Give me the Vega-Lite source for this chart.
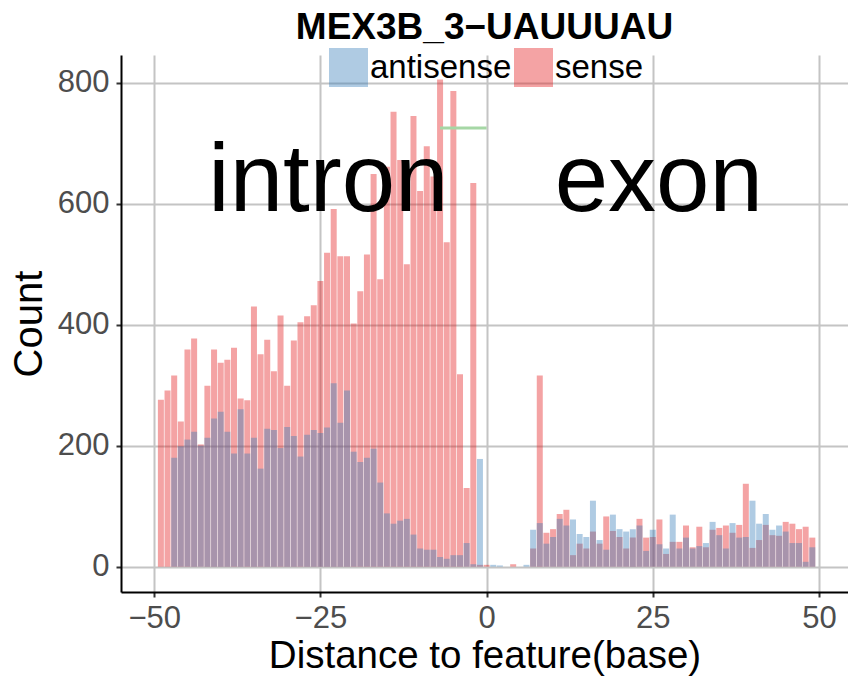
{
  "$schema": "https://vega.github.io/schema/vega-lite/v6.json",
  "width": 727,
  "height": 537,
  "autosize": {"type": "none"},
  "padding": {"left": 121, "top": 55, "right": 0, "bottom": 84},
  "background": "white",
  "title": {
    "text": "MEX3B_3−UAUUUAU",
    "fontSize": 37,
    "fontWeight": "bold",
    "color": "black",
    "anchor": "middle",
    "frame": "group",
    "baseline": "alphabetic",
    "offset": 14,
    "dy": 42
  },
  "config": {
    "view": {"stroke": null},
    "font": "Liberation Sans",
    "axis": {
      "domainColor": "black",
      "domainWidth": 2,
      "gridColor": "#C4C4C4",
      "gridWidth": 2,
      "tickColor": "#333333",
      "tickWidth": 2,
      "tickSize": 5,
      "labelColor": "#4D4D4D",
      "labelFontSize": 31,
      "titleFontWeight": "normal",
      "titleColor": "black"
    }
  },
  "datasets": {
    "bars": [
      {"distance": -49, "count": 276, "strand": "sense"},
      {"distance": -48, "count": 291, "strand": "sense"},
      {"distance": -47, "count": 316, "strand": "sense"},
      {"distance": -46, "count": 240, "strand": "sense"},
      {"distance": -45, "count": 359, "strand": "sense"},
      {"distance": -44, "count": 377, "strand": "sense"},
      {"distance": -43, "count": 202, "strand": "sense"},
      {"distance": -42, "count": 299, "strand": "sense"},
      {"distance": -41, "count": 359, "strand": "sense"},
      {"distance": -40, "count": 337, "strand": "sense"},
      {"distance": -39, "count": 342, "strand": "sense"},
      {"distance": -38, "count": 362, "strand": "sense"},
      {"distance": -37, "count": 278, "strand": "sense"},
      {"distance": -36, "count": 275, "strand": "sense"},
      {"distance": -35, "count": 430, "strand": "sense"},
      {"distance": -34, "count": 351, "strand": "sense"},
      {"distance": -33, "count": 375, "strand": "sense"},
      {"distance": -32, "count": 323, "strand": "sense"},
      {"distance": -31, "count": 415, "strand": "sense"},
      {"distance": -30, "count": 299, "strand": "sense"},
      {"distance": -29, "count": 374, "strand": "sense"},
      {"distance": -28, "count": 404, "strand": "sense"},
      {"distance": -27, "count": 414, "strand": "sense"},
      {"distance": -26, "count": 432, "strand": "sense"},
      {"distance": -25, "count": 472, "strand": "sense"},
      {"distance": -24, "count": 519, "strand": "sense"},
      {"distance": -23, "count": 591, "strand": "sense"},
      {"distance": -22, "count": 513, "strand": "sense"},
      {"distance": -21, "count": 513, "strand": "sense"},
      {"distance": -20, "count": 402, "strand": "sense"},
      {"distance": -19, "count": 455, "strand": "sense"},
      {"distance": -18, "count": 516, "strand": "sense"},
      {"distance": -17, "count": 649, "strand": "sense"},
      {"distance": -16, "count": 475, "strand": "sense"},
      {"distance": -15, "count": 661, "strand": "sense"},
      {"distance": -14, "count": 752, "strand": "sense"},
      {"distance": -13, "count": 672, "strand": "sense"},
      {"distance": -12, "count": 500, "strand": "sense"},
      {"distance": -11, "count": 745, "strand": "sense"},
      {"distance": -10, "count": 621, "strand": "sense"},
      {"distance": -9, "count": 695, "strand": "sense"},
      {"distance": -8, "count": 645, "strand": "sense"},
      {"distance": -7, "count": 805, "strand": "sense"},
      {"distance": -6, "count": 536, "strand": "sense"},
      {"distance": -5, "count": 786, "strand": "sense"},
      {"distance": -4, "count": 318, "strand": "sense"},
      {"distance": -3, "count": 130, "strand": "sense"},
      {"distance": -2, "count": 634, "strand": "sense"},
      {"distance": -1, "count": 3, "strand": "sense"},
      {"distance": 0, "count": 3, "strand": "sense"},
      {"distance": 4, "count": 4, "strand": "sense"},
      {"distance": 7, "count": 30, "strand": "sense"},
      {"distance": 8, "count": 316, "strand": "sense"},
      {"distance": 9, "count": 56, "strand": "sense"},
      {"distance": 10, "count": 62, "strand": "sense"},
      {"distance": 11, "count": 87, "strand": "sense"},
      {"distance": 12, "count": 94, "strand": "sense"},
      {"distance": 13, "count": 19, "strand": "sense"},
      {"distance": 14, "count": 38, "strand": "sense"},
      {"distance": 15, "count": 30, "strand": "sense"},
      {"distance": 16, "count": 58, "strand": "sense"},
      {"distance": 17, "count": 38, "strand": "sense"},
      {"distance": 18, "count": 83, "strand": "sense"},
      {"distance": 19, "count": 59, "strand": "sense"},
      {"distance": 20, "count": 49, "strand": "sense"},
      {"distance": 21, "count": 30, "strand": "sense"},
      {"distance": 22, "count": 48, "strand": "sense"},
      {"distance": 23, "count": 79, "strand": "sense"},
      {"distance": 24, "count": 48, "strand": "sense"},
      {"distance": 25, "count": 49, "strand": "sense"},
      {"distance": 26, "count": 78, "strand": "sense"},
      {"distance": 27, "count": 21, "strand": "sense"},
      {"distance": 28, "count": 41, "strand": "sense"},
      {"distance": 29, "count": 41, "strand": "sense"},
      {"distance": 30, "count": 68, "strand": "sense"},
      {"distance": 31, "count": 32, "strand": "sense"},
      {"distance": 32, "count": 66, "strand": "sense"},
      {"distance": 33, "count": 32, "strand": "sense"},
      {"distance": 34, "count": 61, "strand": "sense"},
      {"distance": 35, "count": 64, "strand": "sense"},
      {"distance": 36, "count": 68, "strand": "sense"},
      {"distance": 37, "count": 56, "strand": "sense"},
      {"distance": 38, "count": 69, "strand": "sense"},
      {"distance": 39, "count": 137, "strand": "sense"},
      {"distance": 40, "count": 31, "strand": "sense"},
      {"distance": 41, "count": 44, "strand": "sense"},
      {"distance": 42, "count": 69, "strand": "sense"},
      {"distance": 43, "count": 52, "strand": "sense"},
      {"distance": 44, "count": 51, "strand": "sense"},
      {"distance": 45, "count": 74, "strand": "sense"},
      {"distance": 46, "count": 71, "strand": "sense"},
      {"distance": 47, "count": 62, "strand": "sense"},
      {"distance": 48, "count": 66, "strand": "sense"},
      {"distance": 49, "count": 48, "strand": "sense"},
      {"distance": -47, "count": 180, "strand": "antisense"},
      {"distance": -46, "count": 199, "strand": "antisense"},
      {"distance": -45, "count": 210, "strand": "antisense"},
      {"distance": -44, "count": 223, "strand": "antisense"},
      {"distance": -43, "count": 200, "strand": "antisense"},
      {"distance": -42, "count": 213, "strand": "antisense"},
      {"distance": -41, "count": 245, "strand": "antisense"},
      {"distance": -40, "count": 256, "strand": "antisense"},
      {"distance": -39, "count": 223, "strand": "antisense"},
      {"distance": -38, "count": 187, "strand": "antisense"},
      {"distance": -37, "count": 260, "strand": "antisense"},
      {"distance": -36, "count": 187, "strand": "antisense"},
      {"distance": -35, "count": 213, "strand": "antisense"},
      {"distance": -34, "count": 162, "strand": "antisense"},
      {"distance": -33, "count": 228, "strand": "antisense"},
      {"distance": -32, "count": 226, "strand": "antisense"},
      {"distance": -31, "count": 196, "strand": "antisense"},
      {"distance": -30, "count": 231, "strand": "antisense"},
      {"distance": -29, "count": 216, "strand": "antisense"},
      {"distance": -28, "count": 182, "strand": "antisense"},
      {"distance": -27, "count": 218, "strand": "antisense"},
      {"distance": -26, "count": 226, "strand": "antisense"},
      {"distance": -25, "count": 221, "strand": "antisense"},
      {"distance": -24, "count": 230, "strand": "antisense"},
      {"distance": -23, "count": 303, "strand": "antisense"},
      {"distance": -22, "count": 238, "strand": "antisense"},
      {"distance": -21, "count": 291, "strand": "antisense"},
      {"distance": -20, "count": 190, "strand": "antisense"},
      {"distance": -19, "count": 173, "strand": "antisense"},
      {"distance": -18, "count": 180, "strand": "antisense"},
      {"distance": -17, "count": 195, "strand": "antisense"},
      {"distance": -16, "count": 139, "strand": "antisense"},
      {"distance": -15, "count": 88, "strand": "antisense"},
      {"distance": -14, "count": 71, "strand": "antisense"},
      {"distance": -13, "count": 76, "strand": "antisense"},
      {"distance": -12, "count": 79, "strand": "antisense"},
      {"distance": -11, "count": 53, "strand": "antisense"},
      {"distance": -10, "count": 30, "strand": "antisense"},
      {"distance": -9, "count": 28, "strand": "antisense"},
      {"distance": -8, "count": 28, "strand": "antisense"},
      {"distance": -7, "count": 16, "strand": "antisense"},
      {"distance": -6, "count": 13, "strand": "antisense"},
      {"distance": -5, "count": 19, "strand": "antisense"},
      {"distance": -4, "count": 19, "strand": "antisense"},
      {"distance": -3, "count": 39, "strand": "antisense"},
      {"distance": -2, "count": 4, "strand": "antisense"},
      {"distance": -1, "count": 178, "strand": "antisense"},
      {"distance": 1, "count": 3, "strand": "antisense"},
      {"distance": 2, "count": 2, "strand": "antisense"},
      {"distance": 6, "count": 3, "strand": "antisense"},
      {"distance": 7, "count": 61, "strand": "antisense"},
      {"distance": 8, "count": 72, "strand": "antisense"},
      {"distance": 9, "count": 38, "strand": "antisense"},
      {"distance": 10, "count": 49, "strand": "antisense"},
      {"distance": 11, "count": 79, "strand": "antisense"},
      {"distance": 12, "count": 68, "strand": "antisense"},
      {"distance": 13, "count": 78, "strand": "antisense"},
      {"distance": 14, "count": 54, "strand": "antisense"},
      {"distance": 15, "count": 49, "strand": "antisense"},
      {"distance": 16, "count": 109, "strand": "antisense"},
      {"distance": 17, "count": 44, "strand": "antisense"},
      {"distance": 18, "count": 28, "strand": "antisense"},
      {"distance": 19, "count": 86, "strand": "antisense"},
      {"distance": 20, "count": 62, "strand": "antisense"},
      {"distance": 21, "count": 58, "strand": "antisense"},
      {"distance": 22, "count": 62, "strand": "antisense"},
      {"distance": 23, "count": 68, "strand": "antisense"},
      {"distance": 24, "count": 26, "strand": "antisense"},
      {"distance": 25, "count": 61, "strand": "antisense"},
      {"distance": 26, "count": 37, "strand": "antisense"},
      {"distance": 27, "count": 30, "strand": "antisense"},
      {"distance": 28, "count": 86, "strand": "antisense"},
      {"distance": 29, "count": 30, "strand": "antisense"},
      {"distance": 30, "count": 48, "strand": "antisense"},
      {"distance": 31, "count": 30, "strand": "antisense"},
      {"distance": 32, "count": 34, "strand": "antisense"},
      {"distance": 33, "count": 39, "strand": "antisense"},
      {"distance": 34, "count": 74, "strand": "antisense"},
      {"distance": 35, "count": 52, "strand": "antisense"},
      {"distance": 36, "count": 30, "strand": "antisense"},
      {"distance": 37, "count": 72, "strand": "antisense"},
      {"distance": 38, "count": 48, "strand": "antisense"},
      {"distance": 39, "count": 49, "strand": "antisense"},
      {"distance": 40, "count": 109, "strand": "antisense"},
      {"distance": 41, "count": 71, "strand": "antisense"},
      {"distance": 42, "count": 87, "strand": "antisense"},
      {"distance": 43, "count": 61, "strand": "antisense"},
      {"distance": 44, "count": 68, "strand": "antisense"},
      {"distance": 45, "count": 58, "strand": "antisense"},
      {"distance": 46, "count": 39, "strand": "antisense"},
      {"distance": 47, "count": 39, "strand": "antisense"},
      {"distance": 48, "count": 8, "strand": "antisense"},
      {"distance": 49, "count": 32, "strand": "antisense"}
    ],
    "segment": [{"start": -7, "end": 0, "level": 725}],
    "labels": [
      {"pos": -23.8, "level": 588, "label": "intron"},
      {"pos": 25.9, "level": 588, "label": "exon"}
    ]
  },
  "layer": [
    {
      "data": {"name": "bars"},
      "mark": {"type": "bar", "size": 6, "opacity": 0.4},
      "encoding": {
        "x": {
          "field": "distance",
          "type": "quantitative",
          "scale": {"domain": [-55, 54.37], "nice": false, "zero": false, "padding": 0},
          "axis": {
            "values": [-50, -25, 0, 25, 50],
            "title": "Distance to feature(base)",
            "titleFontSize": 38.5,
            "labelPadding": 6,
            "titlePadding": 4,
            "labelFlush": false
          }
        },
        "y": {
          "field": "count",
          "type": "quantitative",
          "stack": null,
          "scale": {"domain": [-41.9, 845.7], "nice": false, "zero": false, "padding": 0},
          "axis": {
            "values": [0, 200, 400, 600, 800],
            "title": "Count",
            "titleFontSize": 40,
            "labelPadding": 7,
            "titlePadding": 8
          }
        },
        "color": {
          "field": "strand",
          "type": "nominal",
          "scale": {"domain": ["antisense", "sense"], "range": ["#377EB8", "#E41A1C"]},
          "legend": {
            "title": null,
            "orient": "none",
            "legendX": 208,
            "legendY": -7,
            "direction": "horizontal",
            "symbolType": "square",
            "symbolSize": 1521,
            "symbolStrokeWidth": 0,
            "symbolOpacity": 0.4,
            "labelFontSize": 33,
            "labelColor": "black",
            "labelOffset": 2,
            "columnPadding": 2,
            "padding": 0,
            "labelLimit": 400
          }
        }
      }
    },
    {
      "data": {"name": "segment"},
      "mark": {"type": "rule", "color": "#A6D7A5", "strokeWidth": 3},
      "encoding": {
        "x": {"field": "start", "type": "quantitative"},
        "x2": {"field": "end"},
        "y": {"field": "level", "type": "quantitative"}
      }
    },
    {
      "data": {"name": "labels"},
      "mark": {"type": "text", "fontSize": 96, "baseline": "alphabetic", "align": "center", "color": "black"},
      "encoding": {
        "x": {"field": "pos", "type": "quantitative"},
        "y": {"field": "level", "type": "quantitative"},
        "text": {"field": "label"}
      }
    }
  ]
}
